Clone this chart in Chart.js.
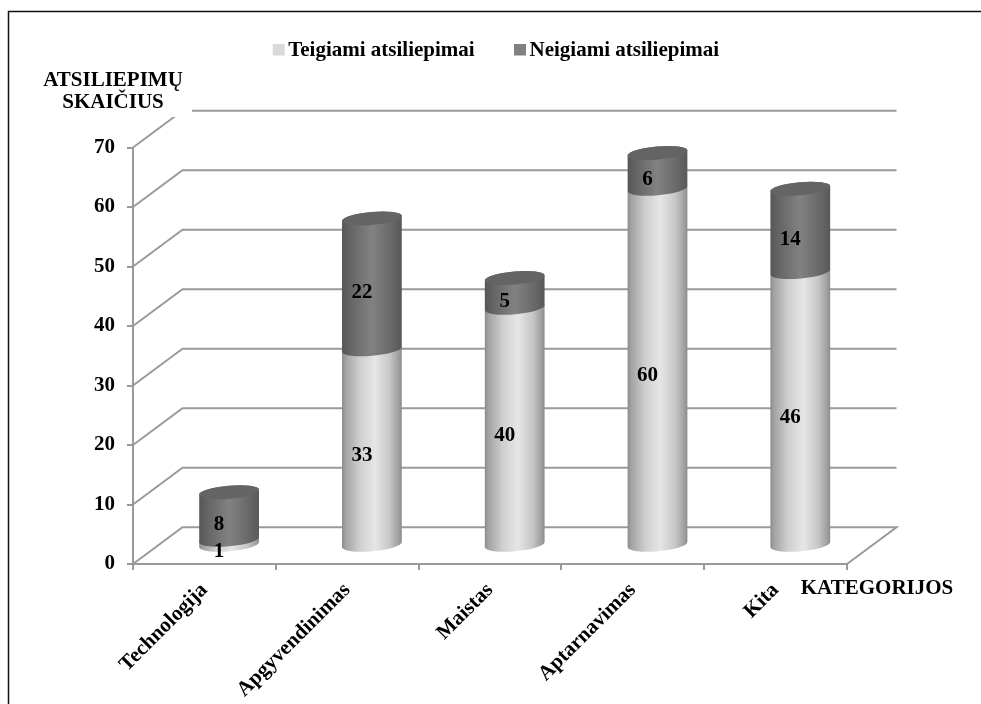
<!DOCTYPE html>
<html><head><meta charset="utf-8">
<style>html,body{margin:0;padding:0;background:#fff}canvas{display:block}</style>
<script src="https://cdn.jsdelivr.net/npm/chart.js@4"></script>
</head><body>
<div style="width:981px;height:704px"><canvas id="c" width="981" height="704"></canvas></div>
<script>
const categories = ['Technologija','Apgyvendinimas','Maistas','Aptarnavimas','Kita'];
const seriesNames = ['Teigiami atsiliepimai','Neigiami atsiliepimai'];
const positive = [1,33,40,60,46];
const negative = [8,22,5,6,14];
const yTicks = [0,10,20,30,40,50,60,70];
const yTitleLines = ['ATSILIEPIMŲ','SKAIČIUS'];
const xTitle = 'KATEGORIJOS';

const FONT = '"Liberation Serif"';
const AXIS = '#9a9a9a';
const DX = 49.5, DY = -36.7;         // depth of the 3D floor
const MX = 24.7, MY = -18.3;         // cylinders stand half way back
const RY = 6.5, TILT = -5 * Math.PI / 180;

function bodyGradient(ctx, x0, x1, dark) {
  const g = ctx.createLinearGradient(x0, 0, x1, 0);
  const stops = dark
    ? [[0,'#565656'],[0.12,'#636363'],[0.5,'#828282'],[0.85,'#666666'],[1,'#585858']]
    : [[0,'#8a8a8a'],[0.06,'#a2a2a2'],[0.3,'#cfcfcf'],[0.55,'#e6e6e6'],[0.8,'#c6c6c6'],[0.95,'#9e9e9e'],[1,'#8a8a8a']];
  stops.forEach(s => g.addColorStop(s[0], s[1]));
  return g;
}

const cylinders = {
  id: 'cylinders',
  // the library would paint flat rectangles, and top dataset first: the
  // cylinders are painted bottom segment first from the bar elements instead
  beforeDatasetDraw() { return false; },
  afterDatasetsDraw(chart) {
    const ctx = chart.ctx;
    chart.data.datasets.forEach((ds, i) => {
      const dark = i === 1;
      chart.getDatasetMeta(i).data.forEach(bar => {
        const p = bar.getProps(['x','y','base','width'], true);
        const cx = p.x + MX, rx = p.width / 2;
        const yb = p.base + MY, yt = p.y + MY;
        ctx.save();
        ctx.beginPath();
        ctx.ellipse(cx, yb, rx, RY, TILT, 0, Math.PI);
        ctx.ellipse(cx, yt, rx, RY, TILT, Math.PI, 0);
        ctx.closePath();
        ctx.fillStyle = bodyGradient(ctx, cx - rx, cx + rx, dark);
        ctx.fill();
        if (dark) {
          ctx.beginPath();
          ctx.ellipse(cx, yt, rx, RY, TILT, 0, Math.PI * 2);
          ctx.fillStyle = '#646464';
          ctx.fill();
        }
        ctx.restore();
      });
    });
    ctx.save();
    ctx.font = 'bold 21px ' + FONT;
    ctx.fillStyle = '#000';
    ctx.textAlign = 'center';
    ctx.textBaseline = 'middle';
    chart.data.datasets.forEach((ds, i) => {
      chart.getDatasetMeta(i).data.forEach((bar, j) => {
        const p = bar.getProps(['x','y','base'], true);
        ctx.fillText(ds.data[j], p.x + MX - 10, (p.y + p.base) / 2 + MY + 9);
      });
    });
    ctx.restore();
  }
};

const frame3d = {
  id: 'frame3d',
  beforeDatasetsDraw(chart) {
    const ctx = chart.ctx, y = chart.scales.y, a = chart.chartArea;
    ctx.save();
    ctx.strokeStyle = AXIS;
    ctx.lineWidth = 2;
    yTicks.forEach(v => {
      const py = y.getPixelForValue(v);
      ctx.beginPath();
      ctx.moveTo(a.left, py);
      ctx.lineTo(a.left + DX, py + DY);
      ctx.lineTo(a.right + DX, py + DY);
      if (v === 0) ctx.lineTo(a.right, py);
      ctx.stroke();
    });
    // the axis title sits on a white box that hides the top corner
    ctx.fillStyle = '#fff';
    ctx.fillRect(30, 66, 162, 51);
    ctx.restore();
  },
  afterDraw(chart) {
    const ctx = chart.ctx;
    ctx.save();
    ctx.font = 'bold 21px ' + FONT;
    ctx.fillStyle = '#000';
    ctx.textAlign = 'center';
    ctx.textBaseline = 'middle';
    ctx.fillText(yTitleLines[0], 113, 81);
    ctx.fillText(yTitleLines[1], 113, 103);
    ctx.fillText(xTitle, 877, 589);
    // legend
    ctx.textAlign = 'left';
    const legendX = [272.7, 514];
    chart.data.datasets.forEach((ds, i) => {
      ctx.fillStyle = ds.backgroundColor;
      ctx.fillRect(legendX[i], 44, 12, 11.5);
      ctx.fillStyle = '#000';
      ctx.fillText(ds.label, legendX[i] + 15.5, 50.5);
    });
    ctx.strokeStyle = '#111';
    ctx.lineWidth = 1.5;
    ctx.beginPath();
    ctx.moveTo(8.5, 704);
    ctx.lineTo(8.5, 11.5);
    ctx.lineTo(981, 11.5);
    ctx.stroke();
    ctx.restore();
  }
};

new Chart(document.getElementById('c'), {
  type: 'bar',
  data: {
    labels: categories,
    datasets: [
      { label: seriesNames[0], data: positive, backgroundColor: '#d9d9d9', stack: 's', barPercentage: 0.42, categoryPercentage: 1 },
      { label: seriesNames[1], data: negative, backgroundColor: '#808080', stack: 's', barPercentage: 0.42, categoryPercentage: 1 }
    ]
  },
  plugins: [frame3d, cylinders],
  options: {
    responsive: false,
    animation: false,
    layout: { padding: { left: 73, right: 134, top: 147.5, bottom: 0 } },
    plugins: {
      tooltip: { enabled: false },
      title: { display: false },
      legend: { display: false }
    },
    scales: {
      x: {
        stacked: true,
        grid: { display: true, drawOnChartArea: false, drawTicks: true, tickLength: 6, color: AXIS, lineWidth: 2 },
        border: { display: true, color: AXIS, width: 2 },
        ticks: { color: '#000', font: { family: FONT, size: 21, weight: 'bold' }, minRotation: 45, maxRotation: 45, padding: 8, autoSkip: false },
        afterFit(s) { s.height = 140; }
      },
      y: {
        stacked: true,
        min: 0, max: 70,
        grid: { display: true, drawOnChartArea: false, drawTicks: true, tickLength: 6, color: AXIS, lineWidth: 2 },
        border: { display: true, color: AXIS, width: 2 },
        ticks: { stepSize: 10, color: '#000', padding: 12, font: { family: FONT, size: 21, weight: 'bold' } },
        afterFit(s) { s.width = 60; }
      }
    }
  }
});
</script>
</body></html>
